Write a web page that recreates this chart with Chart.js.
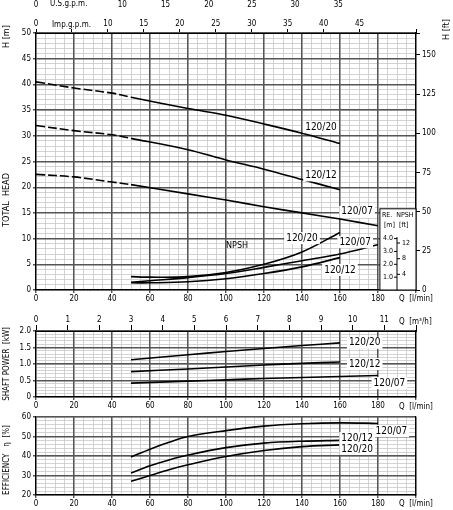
<!DOCTYPE html>
<html><head><meta charset="utf-8">
<script src="https://cdn.jsdelivr.net/npm/chart.js@4"></script>
<style>
body{margin:0;background:#fff;width:453px;height:510px;position:relative;overflow:hidden}
canvas{position:absolute;left:0}
</style></head><body>
<canvas id="head" style="top:0" width="453" height="306"></canvas>
<canvas id="power" style="top:306px" width="453" height="104"></canvas>
<canvas id="eff" style="top:410px" width="453" height="100"></canvas>
<script>
// flow points (l/min) and curves
const qHead = [0, 20, 40, 50, 80, 100, 120, 140, 160];
const h2012 = [32, 31, 30.2, 29.5, 27.3, 25.3, 23.5, 21.5, 19.5];
const h2020 = [40.5, 39.3, 38.3, 37.5, 35.3, 34, 32.3, 30.5, 28.5];
const qHead07 = [0, 20, 40, 50, 80, 100, 120, 140, 160, 180];
const h2007 = [22.5, 22, 21, 20.5, 18.7, 17.5, 16.2, 15, 13.8, 12.5];

const qNpsh = [50, 60, 80, 100, 120, 140, 160];
const npsh2020 = [2.6, 2.5, 2.6, 3.4, 5, 7.4, 11.2];
const npsh2012 = [1.4, 1.4, 1.6, 2.2, 3.2, 4.5, 6.3];
const qNpsh07 = [50, 60, 80, 100, 120, 140, 160, 180];
const npsh2007 = [1.5, 1.8, 2.4, 3.2, 4.4, 5.7, 7, 8.8];

const qPow = [50, 80, 100, 120, 140, 160];
const p2020 = [1.13, 1.28, 1.38, 1.47, 1.56, 1.64];
const p2012 = [0.77, 0.85, 0.91, 0.97, 1.02, 1.06];
const qPow07 = [50, 80, 100, 120, 140, 160, 180];
const p2007 = [0.42, 0.48, 0.52, 0.56, 0.59, 0.62, 0.65];

const qEff = [50, 60, 70, 80, 100, 120, 140, 160];
const e2012 = [31.3, 35, 38, 40.5, 44.3, 46.6, 47.6, 48];
const e2020 = [27, 30, 33, 35.5, 39.7, 42.8, 44.8, 45.7];
const qEff07 = [50, 60, 70, 80, 100, 120, 140, 160, 180];
const e2007 = [39.5, 43.5, 47, 50, 53, 55.3, 56.5, 57, 56.7];

// curve tags: [text, q, value]
const tagsHead = [['120/20', 150, 31.7], ['120/12', 150, 22.3], ['120/07', 169, 15.2], ['120/20', 140, 10.1], ['120/07', 168, 9.3], ['120/12', 160, 3.9]];
const tagsPow = [['120/20', 173, 1.64], ['120/12', 173, 1.0], ['120/07', 186, 0.42]];
const tagsEff = [['120/07', 187, 52.8], ['120/12', 169, 49.2], ['120/20', 169, 43.6]];

const FONT = 'DejaVu Sans Condensed, DejaVu Sans, sans-serif';
Chart.defaults.font.family = FONT;
Chart.defaults.font.size = 8;
Chart.defaults.color = '#000';
Chart.defaults.animation = false;

const pts = (xs, ys) => xs.map((x, i) => ({x: x, y: ys[i]}));
const line = (data, dashBelow) => ({
  data: data, borderColor: '#000', borderWidth: 1.6, pointRadius: 0, tension: 0.35, fill: false,
  segment: dashBelow ? {borderDash: c => c.p1.parsed.x <= dashBelow ? [9, 3] : undefined} : undefined
});

function fixW(w) { return s => { s.width = w; }; }
function fixH(h) { return s => { s.height = h; }; }
const every = (step, skip) => v => (Math.abs(v / step - Math.round(v / step)) < 1e-6 && !(skip || []).includes(v)) ? String(Math.round(v * 100) / 100) : '';
const flat = {maxRotation: 0, minRotation: 0, autoSkip: false, padding: 0};

function grids(ymin, ymax, yminor) {
  return {
    xm: {type: 'linear', min: 0, max: 200, position: 'bottom', afterFit: fixH(0),
      ticks: {display: false, stepSize: 5}, border: {display: false},
      grid: {color: '#c8c8c8', lineWidth: 0.8, drawTicks: false}},
    ym: {type: 'linear', min: ymin, max: ymax, position: 'left', afterFit: fixW(0),
      ticks: {display: false, stepSize: yminor}, border: {display: false},
      grid: {color: '#c8c8c8', lineWidth: 0.8, drawTicks: false}}
  };
}
const xMain = (h) => ({type: 'linear', min: 0, max: 200, position: 'bottom', afterFit: fixH(h),
  ticks: Object.assign({}, flat, {stepSize: 20, padding: 1, callback: v => v <= 180 ? v : ''}),
  border: {color: '#000', width: 1.2}, grid: {color: '#555', lineWidth: 1.4, tickLength: 3}});

const tagPlugin = tags => ({
  id: 'tags',
  afterDatasetsDraw(c) {
    const ctx = c.ctx, x = c.scales.x, y = c.scales.y;
    ctx.save();
    ctx.font = '10px ' + FONT;
    ctx.textAlign = 'center'; ctx.textBaseline = 'middle';
    tags.forEach(t => {
      const px = x.getPixelForValue(t[1]), py = y.getPixelForValue(t[2]);
      const w = ctx.measureText(t[0]).width + 4;
      ctx.fillStyle = '#fff'; ctx.fillRect(px - w / 2, py - 6, w, 12);
      ctx.fillStyle = '#000'; ctx.fillText(t[0], px, py);
    });
    ctx.restore();
  }
});

const textPlugin = (items) => ({
  id: 'texts',
  afterDraw(c) {
    const ctx = c.ctx;
    ctx.save(); ctx.fillStyle = '#000';
    items.forEach(it => {
      ctx.save();
      ctx.font = (it.size || 8) + 'px ' + FONT;
      ctx.translate(it.x, it.y);
      if (it.rot) ctx.rotate(-Math.PI / 2);
      ctx.textAlign = it.align || 'left'; ctx.textBaseline = 'middle';
      ctx.fillText(it.t, 0, 0);
      ctx.restore();
    });
    ctx.restore();
  }
});

// NPSH inset scale (m / ft)
const npshBox = {
  id: 'npshBox',
  afterDatasetsDraw(c) {
    const ctx = c.ctx, x = c.scales.x, y = c.scales.y;
    const x0 = x.getPixelForValue(181), x1 = x.right, y0 = y.getPixelForValue(15.8), y1 = y.bottom;
    const xm = x.getPixelForValue(190);
    ctx.save();
    ctx.fillStyle = '#fff'; ctx.fillRect(x0, y0, x1 - x0, y1 - y0);
    ctx.strokeStyle = '#000'; ctx.lineWidth = 1;
    ctx.strokeRect(x0, y0, x1 - x0, y1 - y0);
    ctx.font = '7px ' + FONT; ctx.fillStyle = '#000'; ctx.textBaseline = 'middle';
    ctx.textAlign = 'left'; ctx.fillText('RE.  NPSH', x0 + 2, y0 + 6);
    ctx.fillText('[m]  [ft]', x0 + 4, y0 + 16);
    ctx.beginPath(); ctx.moveTo(xm, y.getPixelForValue(10.3)); ctx.lineTo(xm, y1); ctx.stroke();
    [[4, '4.0'], [3, '3.0'], [2, '2.0'], [1, '1.0']].forEach(m => {
      const py = y.getPixelForValue(m[0] * 2.5);
      ctx.beginPath(); ctx.moveTo(xm - 3, py); ctx.lineTo(xm, py); ctx.stroke();
      ctx.textAlign = 'right'; ctx.fillText(m[1], xm - 4, py);
    });
    [12, 8, 4].forEach(f => {
      const py = y.getPixelForValue(f * 0.3048 * 2.5);
      ctx.beginPath(); ctx.moveTo(xm, py); ctx.lineTo(xm + 3, py); ctx.stroke();
      ctx.textAlign = 'left'; ctx.fillText(String(f), xm + 5, py);
    });
    ctx.restore();
  }
};

// ---------------- head + NPSH ----------------
new Chart(document.getElementById('head'), {
  type: 'line',
  data: {datasets: [
    line(pts(qHead, h2020), 50), line(pts(qHead, h2012), 50), line(pts(qHead07, h2007), 50),
    line(pts(qNpsh, npsh2020)), line(pts(qNpsh, npsh2012)), line(pts(qNpsh07, npsh2007))
  ]},
  options: {
    responsive: false, parsing: false,
    layout: {padding: 0},
    plugins: {legend: {display: false}, tooltip: {enabled: false}},
    scales: Object.assign(grids(0, 50, 1), {
      usg: {type: 'linear', min: 0, max: 200 / 3.785, position: 'top', afterFit: fixH(15),
        ticks: Object.assign({}, flat, {stepSize: 5, callback: every(5, [5])}), border: {color: '#000'},
        grid: {drawOnChartArea: false, tickLength: 4, color: '#000'}},
      imp: {type: 'linear', min: 0, max: 200 / 4.546, position: 'top', afterFit: fixH(18),
        ticks: Object.assign({}, flat, {stepSize: 5, callback: every(5, [5])}), border: {display: false},
        grid: {display: false}},
      x: xMain(16),
      y: {type: 'linear', min: 0, max: 50, position: 'left', afterFit: fixW(36),
        ticks: Object.assign({}, flat, {stepSize: 5, padding: 2}), border: {color: '#000', width: 1.2},
        grid: {color: '#555', lineWidth: 1.4, tickLength: 3}},
      ft: {type: 'linear', min: 0, max: 50 * 3.2808, position: 'right', afterFit: fixW(37),
        ticks: Object.assign({}, flat, {stepSize: 25, padding: 2, callback: every(25)}), border: {color: '#000', width: 1.2},
        grid: {drawOnChartArea: false, tickLength: 4, color: '#000'}}
    })
  },
  plugins: [tagPlugin(tagsHead), npshBox, textPlugin([
    {t: 'U.S.g.p.m.', x: 50, y: 4}, {t: 'Imp.g.p.m.', x: 52, y: 25},
    {t: 'H [m]', x: 7, y: 48, rot: true, size: 9}, {t: 'TOTAL  HEAD', x: 7, y: 200, rot: true, size: 9, align: 'center'},
    {t: 'H [ft]', x: 447, y: 40, rot: true, size: 9}, {t: 'NPSH', x: 226, y: 246, size: 9},
    {t: 'Q  [l/min]', x: 399, y: 299, size: 8}
  ])]
});

// ---------------- shaft power ----------------
new Chart(document.getElementById('power'), {
  type: 'line',
  data: {datasets: [line(pts(qPow, p2020)), line(pts(qPow, p2012)), line(pts(qPow07, p2007))]},
  options: {
    responsive: false, parsing: false,
    plugins: {legend: {display: false}, tooltip: {enabled: false}},
    scales: Object.assign(grids(0, 2, 0.1), {
      m3h: {type: 'linear', min: 0, max: 12, position: 'top', afterFit: fixH(25),
        ticks: Object.assign({}, flat, {stepSize: 1, callback: v => v <= 11 ? v : ''}), border: {color: '#000'},
        grid: {drawOnChartArea: false, tickLength: 6, color: '#000'}},
      x: xMain(13),
      y: {type: 'linear', min: 0, max: 2, position: 'left', afterFit: fixW(36),
        ticks: Object.assign({}, flat, {stepSize: 0.5, padding: 2, callback: v => v === 0 ? '0' : v.toFixed(1)}),
        border: {color: '#000', width: 1.2}, grid: {color: '#555', lineWidth: 1.4, tickLength: 3}},
      rp: {type: 'linear', min: 0, max: 2, position: 'right', afterFit: fixW(37),
        ticks: {display: false}, border: {color: '#000', width: 1.2}, grid: {display: false}}
    })
  },
  plugins: [tagPlugin(tagsPow), textPlugin([
    {t: 'Q  [m³/h]', x: 399, y: 16}, {t: 'SHAFT POWER  [kW]', x: 7, y: 58, rot: true, size: 8, align: 'center'},
    {t: 'Q  [l/min]', x: 399, y: 101}
  ])]
});

// ---------------- efficiency ----------------
new Chart(document.getElementById('eff'), {
  type: 'line',
  data: {datasets: [line(pts(qEff07, e2007)), line(pts(qEff, e2012)), line(pts(qEff, e2020))]},
  options: {
    responsive: false, parsing: false,
    layout: {padding: {top: 7}},
    plugins: {legend: {display: false}, tooltip: {enabled: false}},
    scales: Object.assign(grids(20, 60, 2), {
      x: xMain(15),
      y: {type: 'linear', min: 20, max: 60, position: 'left', afterFit: fixW(36),
        ticks: Object.assign({}, flat, {stepSize: 10, padding: 2}), border: {color: '#000', width: 1.2},
        grid: {color: '#555', lineWidth: 1.4, tickLength: 3}},
      re: {type: 'linear', min: 20, max: 60, position: 'right', afterFit: fixW(37),
        ticks: {display: false}, border: {color: '#000', width: 1.2}, grid: {display: false}}
    })
  },
  plugins: [tagPlugin(tagsEff), textPlugin([
    {t: 'EFFICIENCY   η  [%]', x: 7, y: 50, rot: true, size: 8, align: 'center'},
    {t: 'Q  [l/min]', x: 399, y: 94}
  ])]
});
</script>
</body></html>
